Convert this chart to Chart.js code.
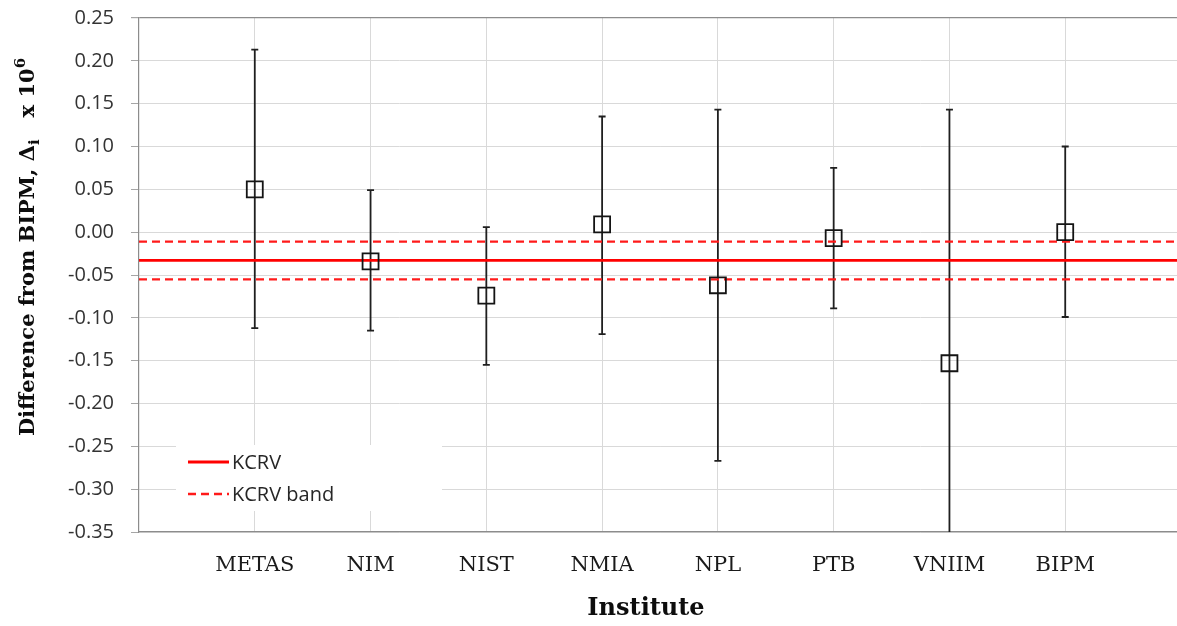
<!DOCTYPE html>
<html>
<head>
<meta charset="utf-8">
<script src="https://cdn.jsdelivr.net/npm/chart.js@4.4.1/dist/chart.umd.min.js"></script>
<style>
  html, body { margin: 0; padding: 0; background: #ffffff; overflow: hidden; }
  canvas { display: block; }
</style>
</head>
<body>
<canvas id="chart" width="1181" height="626"></canvas>
<script>
// Participating institutes and their degrees of equivalence (x 10^6)
const institutes = ['METAS', 'NIM', 'NIST', 'NMIA', 'NPL', 'PTB', 'VNIIM', 'BIPM'];
const deltas     = [0.050, -0.034, -0.074, 0.009, -0.062, -0.007, -0.153, 0.000];
const upperEnds  = [0.213, 0.049, 0.006, 0.135, 0.143, 0.075, 0.143, 0.100];
const lowerEnds  = [-0.112, -0.115, -0.155, -0.119, -0.267, -0.089, -0.449, -0.099];

// Key comparison reference value and its band
const kcrv      = -0.033;
const kcrvUpper = -0.011;
const kcrvLower = -0.055;

// Value axis
const yMin = -0.35, yMax = 0.25, yStep = 0.05;

const SANS = '"Open Sans", "Liberation Sans", sans-serif';
const SERIF = '"DejaVu Serif", "Liberation Serif", serif';

const xPos = institutes.map((_, i) => i + 1);
const xSpan = [0, institutes.length + 1];

function flatLine(v) {
  return xSpan.map(x => ({ x: x, y: v }));
}

// Error bars drawn through the chart's own scales
const errorBars = {
  id: 'errorBars',
  beforeDatasetsDraw(chart) {
    const { ctx, chartArea, scales } = chart;
    ctx.save();
    // legend panel masks the grid behind it
    ctx.fillStyle = '#ffffff';
    ctx.fillRect(176, 445, 266, 66);

    ctx.beginPath();
    ctx.rect(chartArea.left, chartArea.top, chartArea.right - chartArea.left, chartArea.bottom - chartArea.top);
    ctx.clip();
    ctx.strokeStyle = '#1f1f1f';
    ctx.lineWidth = 1.8;
    const cap = 3.5;
    xPos.forEach((xv, i) => {
      const x = scales.x.getPixelForValue(xv);
      const yTop = scales.y.getPixelForValue(upperEnds[i]);
      const yBot = scales.y.getPixelForValue(lowerEnds[i]);
      ctx.beginPath();
      ctx.moveTo(x, yTop);
      ctx.lineTo(x, yBot);
      ctx.moveTo(x - cap, yTop);
      ctx.lineTo(x + cap, yTop);
      ctx.moveTo(x - cap, yBot);
      ctx.lineTo(x + cap, yBot);
      ctx.stroke();
    });
    ctx.restore();
  }
};

// Legend panel and axis titles
const annotations = {
  id: 'annotations',
  afterDraw(chart) {
    const { ctx } = chart;
    ctx.save();

    // legend entries taken from the reference-value datasets
    const entries = chart.data.datasets.filter(d => d.inLegend);
    entries.forEach((ds, i) => {
      const y = 462 + i * 32;
      ctx.strokeStyle = ds.borderColor;
      ctx.lineWidth = ds.borderWidth;
      ctx.setLineDash(ds.borderDash || []);
      ctx.beginPath();
      ctx.moveTo(188, y);
      ctx.lineTo(229, y);
      ctx.stroke();
      ctx.setLineDash([]);
      ctx.fillStyle = '#262626';
      ctx.font = '20px ' + SANS;
      ctx.textAlign = 'left';
      ctx.textBaseline = 'middle';
      ctx.fillText(ds.label, 232, y + 1);
    });

    // x axis title
    ctx.fillStyle = '#0d0d0d';
    ctx.font = 'bold 24px ' + SERIF;
    ctx.textAlign = 'center';
    ctx.textBaseline = 'middle';
    ctx.fillText('Institute', 646, 609);

    // y axis title with subscript and superscript
    const parts = [
      { t: 'Difference from BIPM, \u0394', size: 21, dy: 0 },
      { t: 'i', size: 15, dy: 6 },
      { t: '   x 10', size: 21, dy: 0 },
      { t: '6', size: 15, dy: -8 }
    ];
    let total = 0;
    parts.forEach(p => {
      ctx.font = 'bold ' + p.size + 'px ' + SERIF;
      p.w = ctx.measureText(p.t).width;
      total += p.w;
    });
    ctx.translate(29, 247);
    ctx.rotate(-Math.PI / 2);
    ctx.textAlign = 'left';
    ctx.textBaseline = 'middle';
    let x = -total / 2;
    parts.forEach(p => {
      ctx.font = 'bold ' + p.size + 'px ' + SERIF;
      ctx.fillText(p.t, x, p.dy);
      x += p.w;
    });
    ctx.restore();
  }
};

new Chart(document.getElementById('chart'), {
  type: 'scatter',
  data: {
    datasets: [
      {
        label: 'Institutes',
        data: xPos.map((x, i) => ({ x: x, y: deltas[i] })),
        pointStyle: 'rect',
        pointRadius: 11.3,
        pointHoverRadius: 11.3,
        borderColor: '#141414',
        backgroundColor: 'rgba(0,0,0,0)',
        pointBorderWidth: 1.8,
        showLine: false
      },
      {
        label: 'KCRV',
        inLegend: true,
        type: 'line',
        data: flatLine(kcrv),
        borderColor: '#ff0000',
        borderWidth: 2.8,
        pointRadius: 0,
        fill: false
      },
      {
        label: 'KCRV band',
        inLegend: true,
        type: 'line',
        data: flatLine(kcrvUpper),
        borderColor: '#ff1a1a',
        borderWidth: 2.3,
        borderDash: [8, 5],
        pointRadius: 0,
        fill: false
      },
      {
        label: 'KCRV band lower',
        type: 'line',
        data: flatLine(kcrvLower),
        borderColor: '#ff1a1a',
        borderWidth: 2.3,
        borderDash: [8, 5],
        pointRadius: 0,
        fill: false
      }
    ]
  },
  options: {
    responsive: false,
    animation: false,
    events: [],
    layout: { autoPadding: false, padding: { top: 18, left: 0, right: 0, bottom: 0 } },
    plugins: {
      legend: { display: false },
      tooltip: { enabled: false },
      title: { display: false }
    },
    scales: {
      x: {
        type: 'linear',
        min: xSpan[0],
        max: xSpan[1],
        afterBuildTicks(scale) {
          scale.ticks = xPos.map(v => ({ value: v }));
        },
        afterFit(scale) {
          scale.height = 94;
          scale.paddingLeft = 0;
          scale.paddingRight = 0;
        },
        grid: { color: '#d9d9d9', lineWidth: 1, drawTicks: false },
        border: { display: true, color: '#8c8c8c', width: 1.2 },
        ticks: {
          autoSkip: false,
          maxRotation: 0,
          padding: 21,
          color: '#1a1a1a',
          font: { family: SERIF, size: 21 },
          callback: v => institutes[v - 1]
        }
      },
      y: {
        min: yMin,
        max: yMax,
        afterFit(scale) {
          scale.width = 139;
          scale.paddingTop = 0;
          scale.paddingBottom = 0;
        },
        grid: {
          color: c => (Math.abs(c.tick.value - yMax) < 1e-9 ? '#8c8c8c' : '#d9d9d9'),
          lineWidth: c => (Math.abs(c.tick.value - yMax) < 1e-9 ? 1.2 : 1),
          tickColor: '#a6a6a6',
          tickLength: 8
        },
        border: { display: true, color: '#8c8c8c', width: 1.2 },
        ticks: {
          stepSize: yStep,
          padding: 17,
          color: '#333333',
          font: { family: SANS, size: 20 },
          callback: v => v.toFixed(2)
        }
      }
    }
  },
  plugins: [errorBars, annotations]
});
</script>
</body>
</html>
